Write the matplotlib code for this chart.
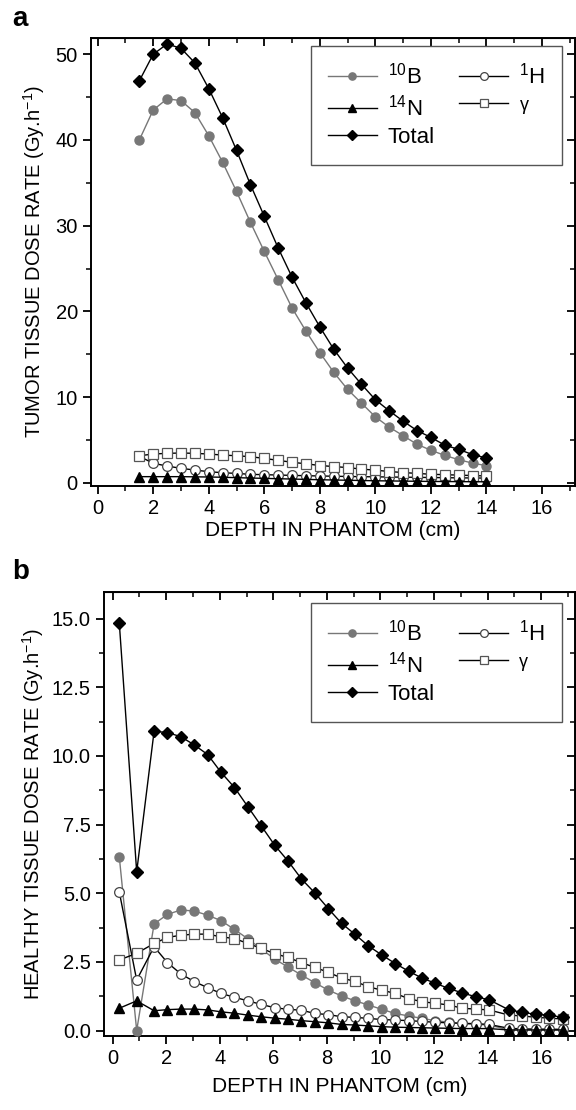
import matplotlib
matplotlib.use("Agg")
import matplotlib.pyplot as plt
from matplotlib.ticker import MultipleLocator, FormatStrFormatter

plt.rcParams['font.family'] = ['Liberation Sans', 'DejaVu Sans']
plt.rcParams['mathtext.fontset'] = 'custom'
plt.rcParams['mathtext.rm'] = 'Liberation Sans'

# panel a: tumor tissue
depth_a = [1.5, 2.0, 2.5, 3.0, 3.5, 4.0, 4.5, 5.0, 5.5, 6.0, 6.5, 7.0, 7.5,
           8.0, 8.5, 9.0, 9.5, 10.0, 10.5, 11.0, 11.5, 12.0, 12.5, 13.0, 13.5, 14.0]
b10_a = [40.0, 43.5, 44.8, 44.6, 43.2, 40.5, 37.4, 34.0, 30.4, 27.0, 23.7, 20.4, 17.7,
         15.2, 12.9, 10.9, 9.3, 7.7, 6.5, 5.5, 4.5, 3.8, 3.2, 2.7, 2.3, 2.0]
n14_a = [0.72, 0.72, 0.72, 0.72, 0.7, 0.68, 0.65, 0.6, 0.56, 0.52, 0.48, 0.44, 0.4,
         0.36, 0.33, 0.3, 0.27, 0.24, 0.22, 0.2, 0.18, 0.16, 0.15, 0.14, 0.13, 0.12]
total_a = [46.9, 50.0, 51.2, 50.7, 49.0, 46.0, 42.6, 38.8, 34.8, 31.1, 27.4, 24.0, 21.0,
           18.2, 15.6, 13.4, 11.5, 9.7, 8.4, 7.2, 6.1, 5.3, 4.4, 3.9, 3.3, 2.9]
h1_a = [3.1, 2.28, 1.96, 1.69, 1.49, 1.3, 1.18, 1.1, 0.99, 0.95, 0.91, 0.87, 0.83,
        0.8, 0.77, 0.74, 0.72, 0.7, 0.68, 0.66, 0.64, 0.62, 0.6, 0.58, 0.57, 0.55]
gamma_a = [3.16, 3.36, 3.44, 3.48, 3.44, 3.36, 3.24, 3.16, 3.05, 2.85, 2.62, 2.4, 2.22,
           2.02, 1.9, 1.78, 1.6, 1.48, 1.32, 1.2, 1.1, 1.0, 0.95, 0.9, 0.85, 0.8]

# panel b: healthy tissue
depth_b = [0.25, 0.9, 1.55, 2.05, 2.55, 3.05, 3.55, 4.05, 4.55, 5.05, 5.55, 6.05, 6.55,
           7.05, 7.55, 8.05, 8.55, 9.05, 9.55, 10.05, 10.55, 11.05, 11.55, 12.05, 12.55,
           13.05, 13.55, 14.05, 14.8, 15.3, 15.8, 16.3, 16.8]
b10_b = [6.33, 0.0, 3.88, 4.23, 4.39, 4.35, 4.2, 4.0, 3.68, 3.34, 2.97, 2.6, 2.31,
         2.02, 1.74, 1.47, 1.26, 1.08, 0.93, 0.77, 0.62, 0.53, 0.44, 0.36, 0.3,
         0.26, 0.22, 0.2, 0.02, 0.02, 0.02, 0.02, 0.02]
n14_b = [0.81, 1.08, 0.72, 0.76, 0.78, 0.78, 0.75, 0.68, 0.63, 0.56, 0.5, 0.45, 0.41,
         0.36, 0.32, 0.28, 0.22, 0.2, 0.17, 0.14, 0.12, 0.11, 0.1, 0.09, 0.08,
         0.07, 0.07, 0.07, 0.02, 0.02, 0.02, 0.02, 0.02]
total_b = [14.85, 5.78, 10.9, 10.85, 10.7, 10.4, 10.05, 9.4, 8.85, 8.15, 7.45, 6.75, 6.17,
           5.52, 5.01, 4.44, 3.9, 3.5, 3.08, 2.75, 2.44, 2.16, 1.91, 1.72, 1.53,
           1.37, 1.23, 1.12, 0.75, 0.66, 0.59, 0.56, 0.48]
h1_b = [5.05, 1.84, 3.05, 2.47, 2.06, 1.78, 1.56, 1.35, 1.21, 1.08, 0.95, 0.83, 0.77,
        0.74, 0.62, 0.58, 0.5, 0.48, 0.44, 0.4, 0.38, 0.36, 0.33, 0.3, 0.28,
        0.26, 0.25, 0.22, 0.08, 0.06, 0.05, 0.05, 0.04]
gamma_b = [2.57, 2.81, 3.17, 3.39, 3.47, 3.51, 3.51, 3.41, 3.35, 3.17, 2.99, 2.8, 2.66,
           2.47, 2.3, 2.12, 1.91, 1.79, 1.59, 1.47, 1.35, 1.16, 1.05, 0.99, 0.93,
           0.81, 0.78, 0.75, 0.56, 0.53, 0.48, 0.45, 0.42]

grey = '#777777'


def draw(ax, x, b10, n14, total, h1, gamma, leg_anchor, xpad):
    ax.plot(x, b10, color=grey, lw=1.0, marker='o', ms=6.5, mfc=grey, mec=grey, label='$^{10}$B', zorder=3)
    ax.plot(x, n14, color='black', lw=1.0, marker='^', ms=7, mfc='black', mec='black', label='$^{14}$N', zorder=4)
    ax.plot(x, total, color='black', lw=1.0, marker='D', ms=6, mfc='black', mec='black', label='Total', zorder=5)
    ax.plot(x, h1, color='black', lw=1.0, marker='o', ms=7, mfc='white', mec='#444444', mew=0.9, label='$^{1}$H', zorder=3)
    ax.plot(x, gamma, color='black', lw=1.0, marker='s', ms=6.5, mfc='white', mec='#555555', mew=0.9, label='γ', zorder=3)

    leg = ax.legend(ncol=2, loc='upper right', bbox_to_anchor=leg_anchor, borderaxespad=0,
                    fontsize=16, fancybox=False, edgecolor='#555555', framealpha=1,
                    handlelength=2.2, handletextpad=0.5, columnspacing=1.1, labelspacing=0.28,
                    borderpad=0.75, markerscale=0.8)
    leg.get_frame().set_linewidth(1.0)
    leg.get_texts()[4].set_fontsize(13)

    ax.xaxis.set_major_locator(MultipleLocator(2))
    ax.xaxis.set_minor_locator(MultipleLocator(1))
    ax.tick_params(axis='both', which='major', direction='out', length=6, width=1.3, labelsize=14.5)
    ax.tick_params(axis='both', which='minor', direction='out', length=3.5, width=1.1)
    for s in ax.spines.values():
        s.set_linewidth(1.4)

    top = ax.secondary_xaxis('top')
    top.xaxis.set_major_locator(MultipleLocator(2))
    top.xaxis.set_minor_locator(MultipleLocator(1))
    top.tick_params(which='major', direction='in', length=6, width=1.3, labeltop=False)
    top.tick_params(which='minor', direction='in', length=3.5, width=1.1)
    right = ax.secondary_yaxis('right')
    right.yaxis.set_major_locator(ax.yaxis.get_major_locator())
    right.yaxis.set_minor_locator(ax.yaxis.get_minor_locator())
    right.tick_params(which='major', direction='in', length=6, width=1.3, labelright=False)
    right.tick_params(which='minor', direction='in', length=3.5, width=1.1)

    ax.set_xlabel('DEPTH IN PHANTOM (cm)', fontsize=15, labelpad=xpad)


fig = plt.figure(figsize=(5.76, 11.10), dpi=100)

ax1 = fig.add_axes([91 / 576, 1 - 486 / 1110, 484 / 576, 448 / 1110])
ax1.yaxis.set_major_locator(MultipleLocator(10))
ax1.yaxis.set_minor_locator(MultipleLocator(5))
draw(ax1, depth_a, b10_a, n14_a, total_a, h1_a, gamma_a, (0.973, 0.982), 2)
ax1.set_xlim(-0.24, 17.19)
ax1.set_ylim(-0.37, 51.9)
ax1.set_ylabel('TUMOR TISSUE DOSE RATE (Gy.h$^{-1}$)', fontsize=14.5, labelpad=6)

ax2 = fig.add_axes([104 / 576, 1 - 1036 / 1110, 471 / 576, 444 / 1110])
ax2.yaxis.set_major_locator(MultipleLocator(2.5))
ax2.yaxis.set_minor_locator(MultipleLocator(1.25))
ax2.yaxis.set_major_formatter(FormatStrFormatter('%.1f'))
draw(ax2, depth_b, b10_b, n14_b, total_b, h1_b, gamma_b, (0.972, 0.975), 6)
ax2.set_xlim(-0.32, 17.26)
ax2.set_ylim(-0.2, 15.97)
ax2.set_ylabel('HEALTHY TISSUE DOSE RATE (Gy.h$^{-1}$)', fontsize=14.5, labelpad=4)

fig.text(0.022, 0.995, 'a', fontsize=20, fontweight='bold', va='top')
fig.text(0.022, 0.496, 'b', fontsize=20, fontweight='bold', va='top')

fig.savefig('out.png', dpi=100)
